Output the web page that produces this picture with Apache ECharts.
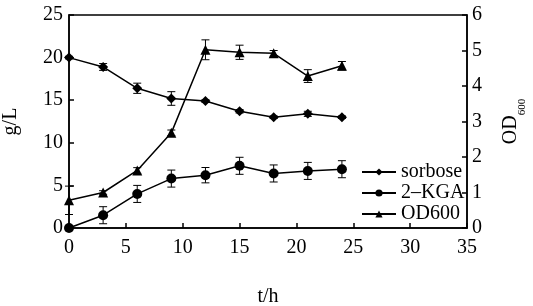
<!DOCTYPE html>
<html>
<head>
<meta charset="utf-8">
<script src="https://cdn.jsdelivr.net/npm/echarts@6/dist/echarts.min.js"></script>
<style>
  html, body { margin: 0; padding: 0; background: #fff; }
  #chart { width: 533px; height: 306px; }
</style>
</head>
<body>
<div id="chart"></div>
<script>
const hours = [0, 3, 6, 9, 12, 15, 18, 21, 24];
const seriesNames = ['sorbose', '2–KGA', 'OD600'];
const sorbose = [20.0, 18.9, 16.4, 15.2, 14.9, 13.7, 13.0, 13.4, 13.0];
const sorboseErr = [0.15, 0.4, 0.6, 0.8, 0.15, 0.2, 0.15, 0.3, 0.15];
const kga = [0.0, 1.5, 4.0, 5.8, 6.2, 7.3, 6.4, 6.7, 6.9];
const kgaErr = [0.0, 1.0, 1.0, 1.0, 0.9, 1.0, 1.0, 1.0, 1.0];
const od600 = [0.78, 1.0, 1.62, 2.68, 5.02, 4.95, 4.92, 4.28, 4.57];
const od600Err = [0.4, 0.05, 0.08, 0.08, 0.28, 0.2, 0.08, 0.18, 0.12];

const font = '"Liberation Serif", "DejaVu Serif", serif';
const fs = 20;

const myChart = echarts.init(document.getElementById('chart'));

const pairs = (vals) => hours.map((t, i) => [t, vals[i]]);
const errData = (vals, errs) => hours.map((t, i) => [t, vals[i] - errs[i], vals[i] + errs[i]]);

// vertical error bar with small caps
const renderErr = (params, api) => {
  const x = api.value(0);
  const lo = api.coord([x, api.value(1)]);
  const hi = api.coord([x, api.value(2)]);
  const w = 4;
  const style = { stroke: '#000', lineWidth: 1 };
  return {
    type: 'group',
    children: [
      { type: 'line', shape: { x1: lo[0], y1: lo[1], x2: hi[0], y2: hi[1] }, style },
      { type: 'line', shape: { x1: lo[0] - w, y1: lo[1], x2: lo[0] + w, y2: lo[1] }, style },
      { type: 'line', shape: { x1: hi[0] - w, y1: hi[1], x2: hi[0] + w, y2: hi[1] }, style }
    ]
  };
};

const lineSeries = (name, vals, symbol, size, yIdx) => ({
  name,
  type: 'line',
  yAxisIndex: yIdx,
  data: pairs(vals),
  symbol,
  symbolSize: size,
  showSymbol: true,
  itemStyle: { color: '#000' },
  lineStyle: { color: '#000', width: 1.5 },
  z: 3
});

const errSeries = (vals, errs, yIdx) => ({
  type: 'custom',
  yAxisIndex: yIdx,
  data: errData(vals, errs),
  renderItem: renderErr,
  silent: true,
  z: 4
});

const axisLine = { show: true, lineStyle: { color: '#000', width: 1.5 } };
const axisTick = { show: true, inside: true, length: 5, lineStyle: { color: '#000', width: 1.5 } };

const option = {
  animation: false,
  grid: {
    left: 69, right: 66, top: 15, bottom: 78,
    outerBoundsMode: 'none',
    containLabel: false,
    show: true, borderColor: '#000', borderWidth: 1.5
  },
  legend: {
    orient: 'vertical',
    left: 356,
    top: 157,
    itemGap: 1,
    itemWidth: 34,
    itemHeight: 9,
    data: seriesNames,
    textStyle: { fontFamily: font, fontSize: fs, color: '#000', lineHeight: 20 }
  },
  xAxis: {
    type: 'value',
    min: 0, max: 35, interval: 5,
    name: 't/h',
    nameLocation: 'middle',
    nameGap: 59,
    nameTextStyle: { fontFamily: font, fontSize: fs, color: '#000' },
    axisLine,
    axisTick,
    axisLabel: { fontFamily: font, fontSize: fs, color: '#000', margin: 10 },
    splitLine: { show: false }
  },
  yAxis: [
    {
      type: 'value',
      min: 0, max: 25, interval: 5,
      name: 'g/L',
      nameLocation: 'middle',
      nameGap: 48,
      nameRotate: 90,
      nameTextStyle: { fontFamily: font, fontSize: fs, color: '#000' },
      axisLine,
      axisTick,
      axisLabel: { fontFamily: font, fontSize: fs, color: '#000', margin: 6 },
      splitLine: { show: false }
    },
    {
      type: 'value',
      position: 'right',
      min: 0, max: 6, interval: 1,
      name: '{a|OD}{b|600}',
      nameLocation: 'middle',
      nameGap: 34,
      nameRotate: 90,
      nameTextStyle: {
        rich: {
          a: { fontFamily: font, fontSize: fs, color: '#000', lineHeight: 22, verticalAlign: 'top' },
          b: { fontFamily: font, fontSize: 11, color: '#000', lineHeight: 12, verticalAlign: 'top', padding: [16, 0, 0, 0] }
        }
      },
      axisLine,
      axisTick,
      axisLabel: { fontFamily: font, fontSize: fs, color: '#000', margin: 5 },
      splitLine: { show: false }
    }
  ],
  series: [
    lineSeries(seriesNames[0], sorbose, 'diamond', 10, 0),
    lineSeries(seriesNames[1], kga, 'circle', 10, 0),
    lineSeries(seriesNames[2], od600, 'triangle', 10, 1),
    errSeries(sorbose, sorboseErr, 0),
    errSeries(kga, kgaErr, 0),
    errSeries(od600, od600Err, 1)
  ]
};

option && myChart.setOption(option);
</script>
</body>
</html>
